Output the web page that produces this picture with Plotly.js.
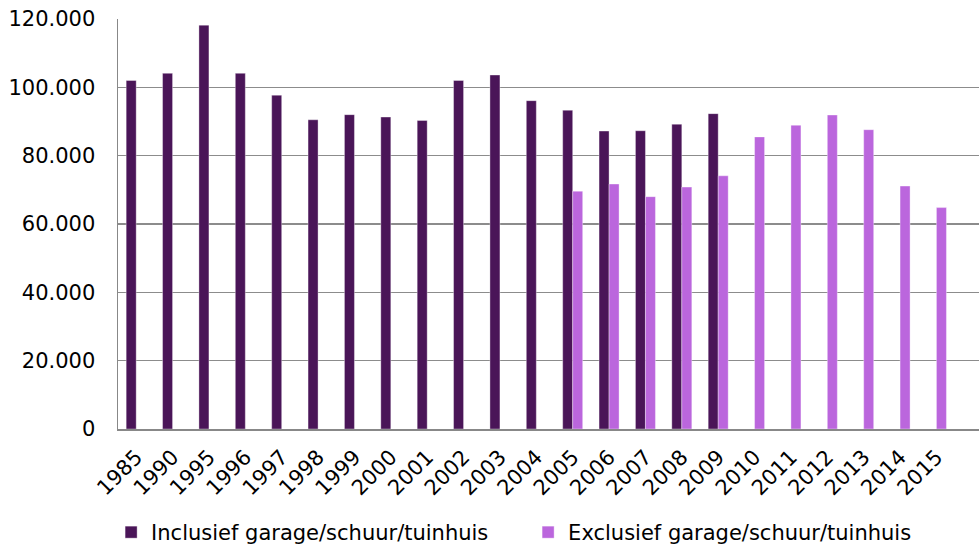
<!DOCTYPE html>
<html>
<head>
<meta charset="utf-8">
<script src="https://cdn.plot.ly/plotly-3.0.1.min.js"></script>
<style>
html,body{margin:0;padding:0;background:#fff;}
#chart{width:979px;height:553px;}
</style>
</head>
<body>
<div id="chart"></div>
<script>
const years = ['1985','1990','1995','1996','1997','1998','1999','2000','2001','2002','2003','2004','2005','2006','2007','2008','2009','2010','2011','2012','2013','2014','2015'];
const inclusief = [102000,104100,118200,104100,97700,90500,92000,91300,90300,102000,103600,96100,93300,87200,87300,89200,92300,null,null,null,null,null,null];
const exclusief = [null,null,null,null,null,null,null,null,null,null,null,null,69600,71700,68000,70800,74100,85500,88900,91900,87600,71100,64800];
const yTicks = [0,20000,40000,60000,80000,100000,120000];

const font = {family:'DejaVu Sans, Verdana, sans-serif', size:21, color:'#000'};

const traces = [
  {type:'bar', name:'Inclusief garage/schuur/tuinhuis', x:years, y:inclusief,
   marker:{color:'#4a1558', line:{color:'rgba(255,255,255,0.45)', width:0.8}}},
  {type:'bar', name:'Exclusief garage/schuur/tuinhuis', x:years, y:exclusief,
   marker:{color:'#bb66dd', line:{color:'rgba(255,255,255,0.45)', width:0.8}}}
];

const layout = {
  width:979, height:553,
  margin:{l:118, r:0, t:19, b:120},
  paper_bgcolor:'#fff', plot_bgcolor:'#fff',
  font:font,
  separators:',.',
  barmode:'group', bargap:0.45, bargroupgap:0,
  showlegend:true,
  legend:{orientation:'h', x:-0.008, xanchor:'left', y:-0.253, yanchor:'middle',
          font:font, entrywidth:372, traceorder:'normal', itemclick:false},
  xaxis:{type:'category', range:[-0.5,23.17], tickangle:-45, showgrid:false,
         showline:true, linecolor:'#888', linewidth:1.5, ticks:'', ticklabelstandoff:6,
         tickfont:font, fixedrange:true},
  yaxis:{range:[0,120000], tickvals:yTicks, tickformat:',d', showgrid:true,
         gridcolor:'#8c8c8c', gridwidth:1.3, showline:true, linecolor:'#888', linewidth:1.5,
         zeroline:false, ticks:'', ticklabelstandoff:17, tickfont:font, fixedrange:true}
};

Plotly.newPlot('chart', traces, layout, {displayModeBar:false, staticPlot:true});
</script>
</body>
</html>
